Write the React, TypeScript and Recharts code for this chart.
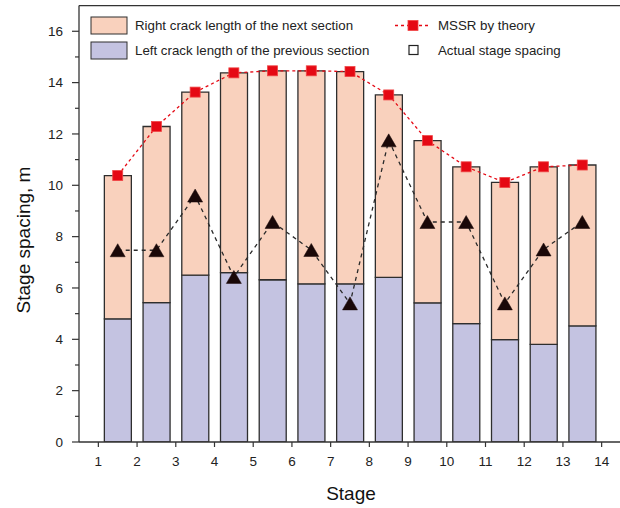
import React from 'react';
import { ComposedChart, Bar, Line, XAxis, YAxis, ReferenceLine } from 'recharts';

const stages = [1.5, 2.5, 3.5, 4.5, 5.5, 6.5, 7.5, 8.5, 9.5, 10.5, 11.5, 12.5, 13.5];
const leftCrack = [4.80, 5.43, 6.50, 6.60, 6.32, 6.16, 6.16, 6.41, 5.42, 4.61, 3.99, 3.80, 4.52];
const rightCrack = [5.58, 6.86, 7.13, 7.78, 8.14, 8.30, 8.27, 7.11, 6.32, 6.11, 6.12, 6.92, 6.27];
const mssrTheory = [10.38, 12.29, 13.63, 14.38, 14.46, 14.46, 14.43, 13.52, 11.74, 10.72, 10.11, 10.72, 10.79];
const actualSpacing = [7.47, 7.47, 9.6, 6.43, 8.57, 7.48, 5.40, 11.75, 8.57, 8.57, 5.40, 7.50, 8.57];
const xTicks = [1, 2, 3, 4, 5, 6, 7, 8, 9, 10, 11, 12, 13, 14];
const yTicks = [0, 1, 2, 3, 4, 5, 6, 7, 8, 9, 10, 11, 12, 13, 14, 15, 16];

const data = stages.map((x, i) => ({
  x,
  left: leftCrack[i],
  right: rightCrack[i],
  mssr: mssrTheory[i],
  actual: actualSpacing[i],
}));

const FONT = '"Liberation Sans", Arial, Helvetica, sans-serif';
const AXIS = '#333333';
const PEACH = '#F9D1BD';
const LAVENDER = '#C4C3E1';
const RED = '#E50914';

const TICK_SIZE = 6;
const TICK_MARGIN = 4;

const YTick = (props: any) => {
  const { x, y, payload } = props;
  const axisX = x + TICK_SIZE + TICK_MARGIN;
  const v = payload.value;
  const major = v % 2 === 0;
  return (
    <g>
      <line x1={axisX} x2={axisX - (major ? 7 : 4)} y1={y} y2={y} stroke={AXIS} strokeWidth={1.2} />
      {major && (
        <text x={axisX - 16} y={y} dy="0.35em" textAnchor="end" fontSize={13.5} fill="#222" fontFamily={FONT}>
          {v}
        </text>
      )}
    </g>
  );
};

const SquareDot = (props: any) => {
  const { cx, cy } = props;
  if (cx == null || cy == null) return null;
  return <rect x={cx - 5} y={cy - 5} width={10} height={10} fill={RED} stroke="#F04545" strokeWidth={0.8} />;
};

const TriDot = (props: any) => {
  const { cx, cy } = props;
  if (cx == null || cy == null) return null;
  const w = 15;
  const h = 13;
  return (
    <path
      d={`M${cx},${cy - h / 2} L${cx + w / 2},${cy + h / 2} L${cx - w / 2},${cy + h / 2} Z`}
      fill="#1A0808"
      stroke="#1A0808"
      strokeWidth={0.5}
    />
  );
};

export default function App() {
  return (
    <div
      style={{
        position: 'absolute',
        left: 0,
        top: 0,
        width: 620,
        height: 508,
        overflow: 'hidden',
        background: '#fff',
        fontFamily: FONT,
      }}
    >
      <ComposedChart
        width={622}
        height={508}
        data={data}
        margin={{ top: 5.6, right: 1, bottom: 26, left: 19 }}
      >
        <XAxis
          dataKey="x"
          type="number"
          domain={[0.5, 14.5]}
          ticks={xTicks}
          allowDataOverflow
          height={40}
          tickSize={5}
          tickMargin={9}
          stroke={AXIS}
          axisLine={{ stroke: AXIS, strokeWidth: 1.3 }}
          tickLine={{ stroke: AXIS, strokeWidth: 1.2 }}
          tick={{ fontSize: 13.5, fill: '#222', fontFamily: FONT }}
          interval={0}
        />
        <YAxis
          type="number"
          domain={[0, 17]}
          ticks={yTicks}
          allowDataOverflow
          width={60}
          interval={0}
          tickSize={TICK_SIZE}
          tickMargin={TICK_MARGIN}
          tickLine={false}
          axisLine={{ stroke: AXIS, strokeWidth: 1.3 }}
          tick={<YTick />}
        />
        <ReferenceLine y={17} stroke={AXIS} strokeWidth={1.3} />
        <ReferenceLine x={14.5} stroke={AXIS} strokeWidth={1.3} />
        <Bar dataKey="left" stackId="a" fill={LAVENDER} stroke="#2E2E2E" strokeWidth={1.3} barSize={27} isAnimationActive={false} />
        <Bar dataKey="right" stackId="a" fill={PEACH} stroke="#2E2E2E" strokeWidth={1.3} barSize={27} isAnimationActive={false} />
        <Line
          dataKey="actual"
          stroke="#2A2A2A"
          strokeWidth={1.3}
          strokeDasharray="4 4"
          dot={<TriDot />}
          activeDot={false}
          isAnimationActive={false}
        />
        <Line
          dataKey="mssr"
          stroke={RED}
          strokeWidth={1.3}
          strokeDasharray="3 3"
          dot={<SquareDot />}
          activeDot={false}
          isAnimationActive={false}
        />
      </ComposedChart>
      <svg
        width={620}
        height={508}
        style={{ position: 'absolute', left: 0, top: 0, pointerEvents: 'none' }}
      >
        <g fontFamily={FONT} fontSize={13.3} fill="#222">
          <rect x={91} y={17} width={36} height={17} fill={PEACH} stroke="#2E2E2E" strokeWidth={1} />
          <text x={135} y={25.5} dy="0.35em">Right crack length of the next section</text>
          <rect x={91} y={42} width={36} height={17} fill={LAVENDER} stroke="#2E2E2E" strokeWidth={1} />
          <text x={135} y={50} dy="0.35em">Left crack length of the previous section</text>
          <line x1={395} x2={431} y1={25.5} y2={25.5} stroke={RED} strokeWidth={1.3} strokeDasharray="3 3" />
          <rect x={408} y={20.5} width={10} height={10} fill={RED} stroke="#F04545" strokeWidth={0.8} />
          <text x={438} y={25.5} dy="0.35em">MSSR by theory</text>
          <rect x={409} y={45.5} width={9} height={9} fill="none" stroke="#222" strokeWidth={1.2} />
          <text x={438} y={50} dy="0.35em">Actual stage spacing</text>
        </g>
        <text x={351} y={500} textAnchor="middle" fontFamily={FONT} fontSize={19} fill="#111">Stage</text>
        <text
          x={30}
          y={240}
          textAnchor="middle"
          fontFamily={FONT}
          fontSize={19}
          fill="#111"
          transform="rotate(-90 30 240)"
        >
          Stage spacing, m
        </text>
      </svg>
    </div>
  );
}
